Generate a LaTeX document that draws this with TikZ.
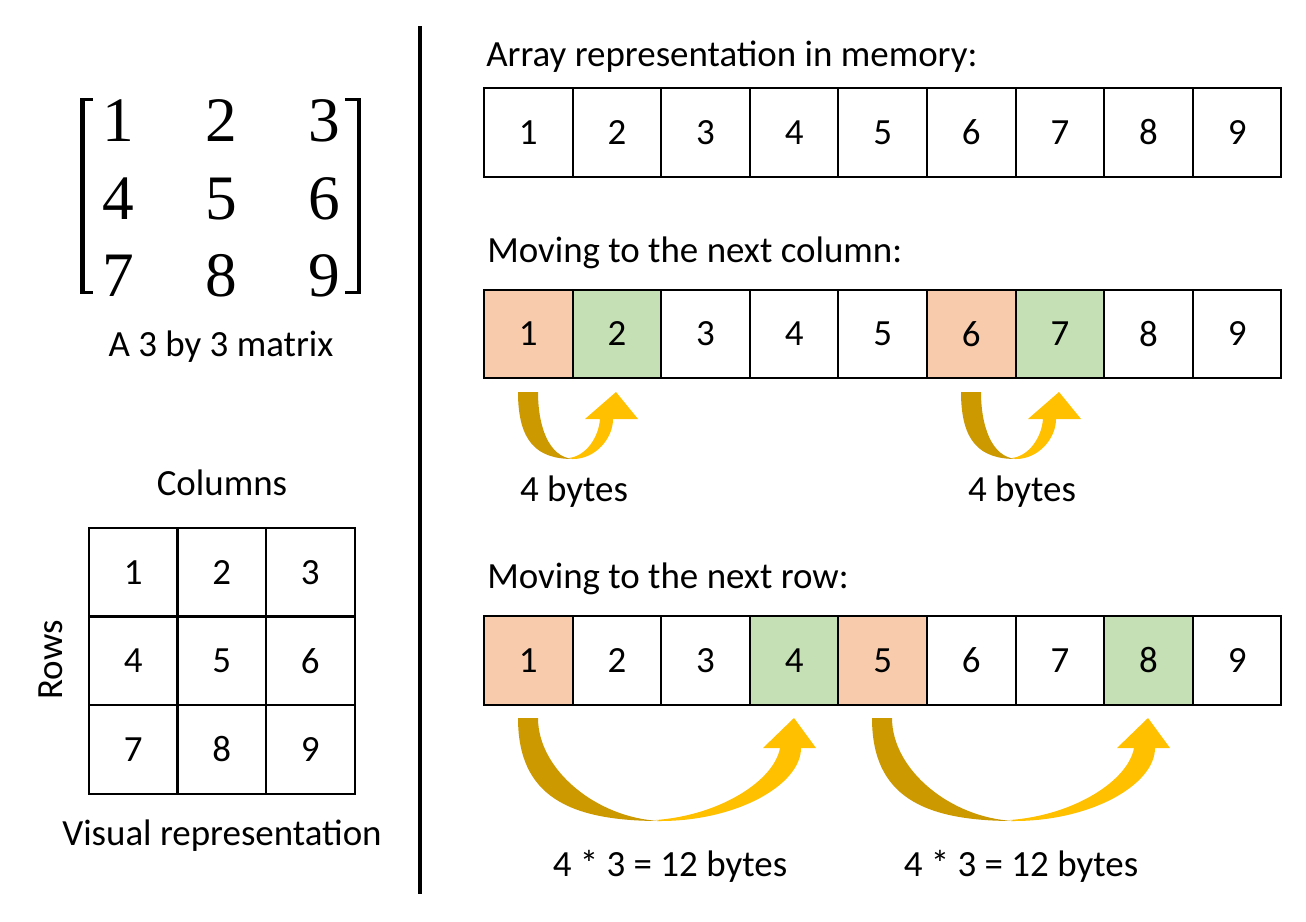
\documentclass[tikz,border=0pt]{standalone}
\usepackage{fontspec}
\setmainfont{Carlito}
\newfontfamily\matfont{Liberation Serif}
\definecolor{cellorange}{HTML}{F8CBAD}
\definecolor{cellgreen}{HTML}{C5E0B4}
\definecolor{goldlight}{HTML}{FFC000}
\definecolor{golddark}{HTML}{CC9900}
\tikzset{
  cellbox/.style={draw=black, line width=1.5pt, minimum width=66.45pt, minimum height=66.4pt,
    inner sep=0pt, font=\fontsize{27.7}{33}\selectfont},
  lbl/.style={inner sep=0pt, font=\fontsize{27.7}{33}\selectfont},
  matnum/.style={inner sep=0pt, anchor=base, font=\matfont\fontsize{47.5}{50}\selectfont},
}
% curved up arrow: #1 x0, #2 y0, #3 B, #4 D, #5 T, #6 H, #7 Ti, #8 To
\newcommand\uparc[8]{%
  \begin{scope}[shift={(#1,#2)}]
    \fill[goldlight] (#3,#4) .. controls ({#3+0.55*(#8-#3)},#4) and (#8,{#6+0.5*(#4-#6)}) .. (#8,#6)
      -- ({#5+22},#6) -- (#5,0) -- ({#5-31},#6) -- (#7,#6)
      .. controls ({#7-0.05*(#7-#3)},{#6+0.45*(#4-#6)}) and ({#3+0.5*(#7-#3)},{#4-0.08*(#4-#6)}) .. ({#3-4},{#4-1})
      -- cycle;
    \fill[golddark] (0,0) -- (20,0) .. controls (20,{0.5*#4}) and ({0.55*#3},{0.97*#4}) .. (#3,#4)
      .. controls ({0.35*#3},#4) and (0,{0.75*#4}) .. cycle;
  \end{scope}}
\begin{document}
\begin{tikzpicture}[x=0.75pt,y=-0.75pt]
\useasboundingbox[fill=white] (0,0) rectangle (1306,921);

% divider
\draw[line width=3.6pt] (420,26) coordinate (dtop) -- (420,894) coordinate (dbot);

% matrix
\fill (80,98) rectangle (84.5,294);
\fill (80,98) rectangle (93,100.8);
\fill (80,291.2) rectangle (93,294);
\fill (356.5,98) rectangle (361,294);
\fill (345,98) rectangle (361,100.8);
\fill (345,291.2) rectangle (361,294);
\node[matnum] (m1) at (118,141) {1};
\node[matnum] (m2) at (221,141) {2};
\node[matnum] (m3) at (324,141) {3};
\node[matnum] (m4) at (118,219) {4};
\node[matnum] (m5) at (221,219) {5};
\node[matnum] (m6) at (324,219) {6};
\node[matnum] (m7) at (118,296) {7};
\node[matnum] (m8) at (221,296) {8};
\node[matnum] (m9) at (324,296) {9};
\node[lbl, anchor=base] (mcap) at (221,356) {A 3 by 3 matrix};

% visual grid
\node[lbl, anchor=base] (colsl) at (222,495) {Columns};
\node[lbl, anchor=base, rotate=90] (rowsl) at (62,660) {Rows};
\foreach \r in {1,2,3}{
  \foreach \c in {1,2,3}{
    \pgfmathtruncatemacro{\v}{(\r-1)*3+\c}
    \node[cellbox] (g\v) at ({89+88.5*(\c-0.5)},{528+88.5*(\r-0.5)}) {\v};
  }
}
\node[lbl, anchor=base] (vcap) at (222,845) {Visual representation};

% arrays
\node[lbl, anchor=base west] (t1) at (486,66) {Array representation in memory:};
\foreach \i in {1,...,9}{
  \node[cellbox] (a\i) at ({484+88.6*(\i-0.5)},132.5) {\i};
}
\node[lbl, anchor=base west] (t2) at (487,262) {Moving to the next column:};
\foreach \i/\f in {1/cellorange,2/cellgreen,3/white,4/white,5/white,6/cellorange,7/cellgreen,8/white,9/white}{
  \node[cellbox, fill=\f] (b\i) at ({484+88.6*(\i-0.5)},334) {\i};
}
\node[lbl, anchor=base west] (t3) at (487,588) {Moving to the next row:};
\foreach \i/\f in {1/cellorange,2/white,3/white,4/cellgreen,5/cellorange,6/white,7/white,8/cellgreen,9/white}{
  \node[cellbox, fill=\f] (c\i) at ({484+88.6*(\i-0.5)},660.5) {\i};
}

% arrows
\uparc{518}{392}{55}{67}{98}{27}{82}{95}
\uparc{961}{392}{55}{67}{98}{27}{82}{95}
\uparc{518}{718}{142}{103}{276}{30}{262}{283}
\uparc{872}{718}{142}{103}{276}{30}{262}{283}

\node[lbl, anchor=base] (l1) at (574,501) {4 bytes};
\node[lbl, anchor=base] (l2) at (1022,501) {4 bytes};
\node[lbl, anchor=base] (l3) at (670,876) {4 * 3 = 12 bytes};
\node[lbl, anchor=base] (l4) at (1021,876) {4 * 3 = 12 bytes};
\end{tikzpicture}
\end{document}
